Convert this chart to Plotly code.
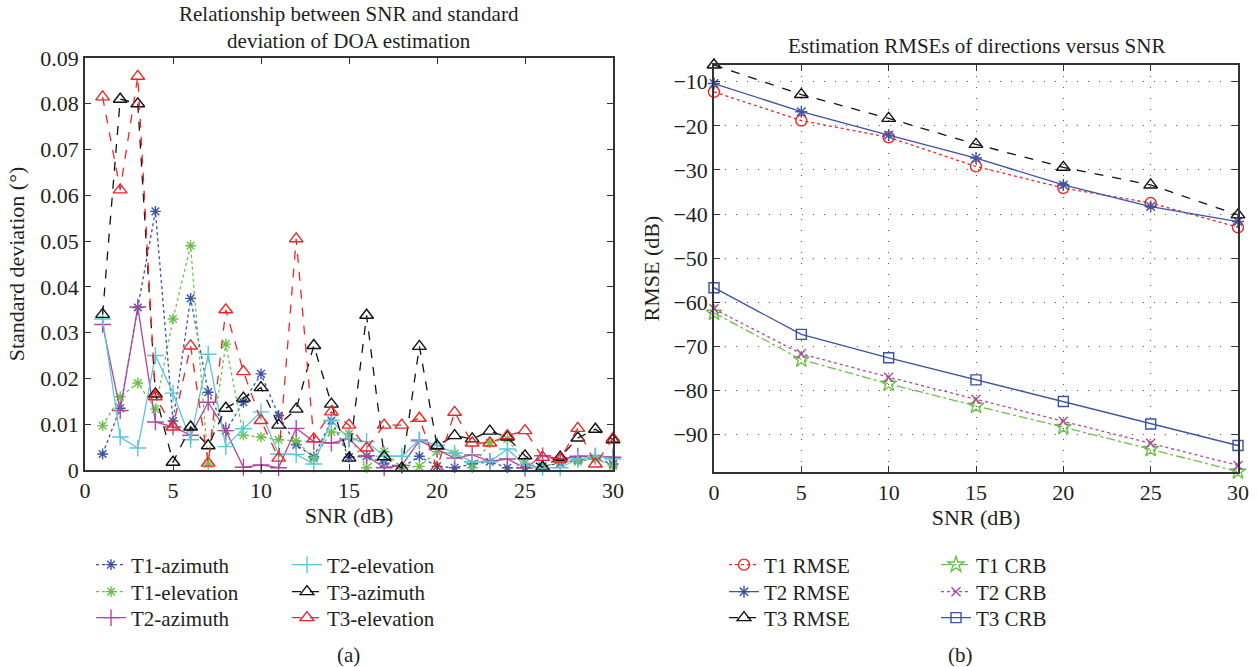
import plotly.graph_objects as go

# ---------------- data (a) ----------------
snr_a = list(range(1, 31))
t1_az = [0.0035, 0.0135, 0.0355, 0.0565, 0.0107, 0.0375, 0.017, 0.0086, 0.0148, 0.021,
         0.0119, 0.0055, 0.0029, 0.0108, 0.0028, 0.003, 0.0015, 0.0005, 0.003, 0.0008,
         0.0005, 0.0013, 0.0018, 0.0005, 0.0005, 0.0008, 0.0015, 0.0022, 0.0025, 0.0013]
t1_el = [0.0097, 0.016, 0.019, 0.0133, 0.033, 0.049, 0.0013, 0.0275, 0.0076, 0.0072,
         0.0066, 0.0064, 0.0025, 0.0083, 0.0079, 0.0005, 0.004, 0.0005, 0.0008, 0.004,
         0.0036, 0.0005, 0.006, 0.0068, 0.0015, 0.0005, 0.002, 0.0018, 0.0025, 0.0009]
t2_az = [0.0318, 0.013, 0.0356, 0.0105, 0.0094, 0.0076, 0.0148, 0.0086, 0.0006, 0.0011,
         0.0005, 0.0091, 0.0062, 0.0059, 0.0068, 0.0031, 0.0005, 0.001, 0.0064, 0.0045,
         0.0026, 0.0033, 0.0019, 0.0024, 0.0004, 0.0031, 0.0024, 0.003, 0.003, 0.0028]
t2_el = [0.033, 0.0072, 0.0048, 0.025, 0.0168, 0.0066, 0.0253, 0.0051, 0.009, 0.0127,
         0.0035, 0.0034, 0.0013, 0.0108, 0.0068, 0.0062, 0.003, 0.003, 0.0066, 0.0054,
         0.0037, 0.0018, 0.0018, 0.0046, 0.001, 0.0005, 0.0005, 0.0024, 0.003, 0.0024]
t3_az = [0.034, 0.081, 0.080, 0.0166, 0.0017, 0.0094, 0.0053, 0.0135, 0.0157, 0.018,
         0.0098, 0.0133, 0.0272, 0.0144, 0.0026, 0.0338, 0.0029, 0.0004, 0.027, 0.0053,
         0.0075, 0.0068, 0.0085, 0.0072, 0.0031, 0.0006, 0.0028, 0.007, 0.0089, 0.0066]
t3_el = [0.0815, 0.0612, 0.086, 0.016, 0.0094, 0.0271, 0.0015, 0.035, 0.0215, 0.0108,
         0.0026, 0.0505, 0.0068, 0.0127, 0.0098, 0.0048, 0.0098, 0.0098, 0.0113, 0.0004,
         0.0126, 0.0059, 0.0059, 0.0075, 0.0086, 0.0028, 0.0024, 0.0091, 0.0013, 0.0069]
yticks_a = [0, 0.01, 0.02, 0.03, 0.04, 0.05, 0.06, 0.07, 0.08, 0.09]
yticklabels_a = ["0", "0.01", "0.02", "0.03", "0.04", "0.05", "0.06", "0.07", "0.08", "0.09"]

# ---------------- data (b) ----------------
snr_b = [0, 5, 10, 15, 20, 25, 30]
t1_rmse = [-12.3, -18.8, -22.6, -29.2, -34.1, -37.5, -43.0]
t2_rmse = [-10.4, -16.8, -22.1, -27.3, -33.4, -38.3, -41.7]
t3_rmse = [-6.2, -12.9, -18.3, -24.2, -29.4, -33.4, -40.2]
t1_crb = [-62.4, -73.0, -78.5, -83.5, -88.3, -93.3, -98.4]
t2_crb = [-61.5, -71.7, -77.0, -82.0, -87.0, -92.0, -97.0]
t3_crb = [-56.7, -67.3, -72.6, -77.6, -82.5, -87.6, -92.5]
xticks = [0, 5, 10, 15, 20, 25, 30]
yticks_b = [-10, -20, -30, -40, -50, -60, -70, -80, -90]

FONT = "Liberation Serif"
TXT = "#231f20"
BLUE = "#3b52a5"
GREEN = "#6cc04a"
MAG = "#b0479f"
CYAN = "#5bc6d6"
BLACK = "#111111"
RED = "#f02424"

W, H = 1258, 667
def px(v): return v / W
def py(v): return 1 - v / H

fig = go.Figure()
legend_layout = {}
leg_common = dict(bgcolor="rgba(0,0,0,0)", font=dict(family=FONT, size=21, color=TXT),
                  xanchor="left", yanchor="middle", orientation="v", itemwidth=30)

def add(x, y, name, color, dash, symbol, size, xa, ya, leg_id, lx, ly, width=1.3):
    key = "legend" if leg_id == 1 else f"legend{leg_id}"
    legend_layout[key] = dict(x=px(lx), y=py(ly), **leg_common)
    fig.add_trace(go.Scatter(
        x=x, y=y, name=name, mode="lines+markers", cliponaxis=False,
        line=dict(color=color, dash=dash, width=width),
        marker=dict(symbol=symbol, size=size, color=color,
                    line=dict(color=color, width=1.4)),
        xaxis=xa, yaxis=ya, legend=key))

R1, R2, R3 = 565, 592, 618
# (a)
add(snr_a, t1_az, "T1-azimuth", BLUE, "dot", "asterisk-open", 9, "x", "y", 1, 91, R1)
add(snr_a, t1_el, "T1-elevation", GREEN, "dot", "asterisk-open", 9, "x", "y", 2, 91, R2)
add(snr_a, t2_az, "T2-azimuth", MAG, "solid", "cross-thin-open", 12, "x", "y", 3, 91, R3)
add(snr_a, t2_el, "T2-elevation", CYAN, "solid", "cross-thin-open", 12, "x", "y", 4, 287, R1)
add(snr_a, t3_az, "T3-azimuth", BLACK, "dash", "triangle-up-open", 12, "x", "y", 5, 287, R2)
add(snr_a, t3_el, "T3-elevation", RED, "dash", "triangle-up-open", 12, "x", "y", 6, 287, R3)

# (b)
add(snr_b, t1_rmse, "T1 RMSE", RED, "dot", "circle-open", 11, "x2", "y2", 7, 724, R1)
add(snr_b, t2_rmse, "T2 RMSE", BLUE, "solid", "asterisk-open", 10, "x2", "y2", 8, 724, R2)
add(snr_b, t3_rmse, "T3 RMSE", BLACK, "dash", "triangle-up-open", 12, "x2", "y2", 9, 724, R3)
add(snr_b, t1_crb, "T1 CRB", GREEN, "dashdot", "star-open", 12, "x2", "y2", 10, 936, R1)
add(snr_b, t2_crb, "T2 CRB", MAG, "dot", "x-thin-open", 9, "x2", "y2", 11, 936, R2)
add(snr_b, t3_crb, "T3 CRB", BLUE, "solid", "square-open", 10, "x2", "y2", 12, 936, R3)

axis_common = dict(showline=True, linecolor="#333333", linewidth=1.6, mirror="ticks",
                   ticks="inside", ticklen=6, tickcolor="#333333", automargin=False,
                   tickfont=dict(family=FONT, size=22, color=TXT), zeroline=False)
TFONT = dict(family=FONT, size=22, color=TXT)

fig.update_layout(
    width=W, height=H,
    margin=dict(l=0, r=0, t=0, b=0, autoexpand=False),
    paper_bgcolor="white", plot_bgcolor="white",
    font=dict(family=FONT, color=TXT),
    xaxis=dict(domain=[px(85), px(613)], range=[0, 30], tickvals=xticks,
               showgrid=False, anchor="y",
               title=dict(text="SNR (dB)", font=TFONT, standoff=2),
               **axis_common),
    yaxis=dict(domain=[py(470), py(58)], range=[0, 0.09], tickvals=yticks_a, ticktext=yticklabels_a,
               showgrid=False, anchor="x",
               title=dict(text="Standard deviation (°)", font=TFONT, standoff=10),
               **axis_common),
    xaxis2=dict(domain=[px(714), px(1238)], range=[0, 30], tickvals=xticks,
                showgrid=True, gridcolor="#555555", griddash="1px,10px", gridwidth=1.2, anchor="y2",
                title=dict(text="SNR (dB)", font=TFONT, standoff=2),
                **axis_common),
    yaxis2=dict(domain=[py(472), py(65)], range=[-98.5, -6.2], tickvals=yticks_b,
                showgrid=True, gridcolor="#555555", griddash="1px,10px", gridwidth=1.2, anchor="x2",
                title=dict(text="RMSE (dB)", font=TFONT, standoff=8),
                **axis_common),
    showlegend=True,
    **legend_layout,
)

fig.add_annotation(text="Relationship between SNR and standard<br>deviation of DOA estimation",
                   x=px(349), y=py(27), xref="paper", yref="paper", xanchor="center", yanchor="middle",
                   showarrow=False, font=dict(family=FONT, size=21, color=TXT))
fig.add_annotation(text="Estimation RMSEs of directions versus SNR",
                   x=px(976), y=py(46), xref="paper", yref="paper", xanchor="center", yanchor="middle",
                   showarrow=False, font=dict(family=FONT, size=21, color=TXT))
fig.add_annotation(text="(a)", x=px(349), y=py(655), xref="paper", yref="paper",
                   xanchor="center", yanchor="middle", showarrow=False,
                   font=dict(family=FONT, size=21, color=TXT))
fig.add_annotation(text="(b)", x=px(960), y=py(655), xref="paper", yref="paper",
                   xanchor="center", yanchor="middle", showarrow=False,
                   font=dict(family=FONT, size=21, color=TXT))

fig.write_html("out.html", config={"displayModeBar": False},
               post_script="document.body.style.margin='0px';document.body.style.overflow='hidden';")
